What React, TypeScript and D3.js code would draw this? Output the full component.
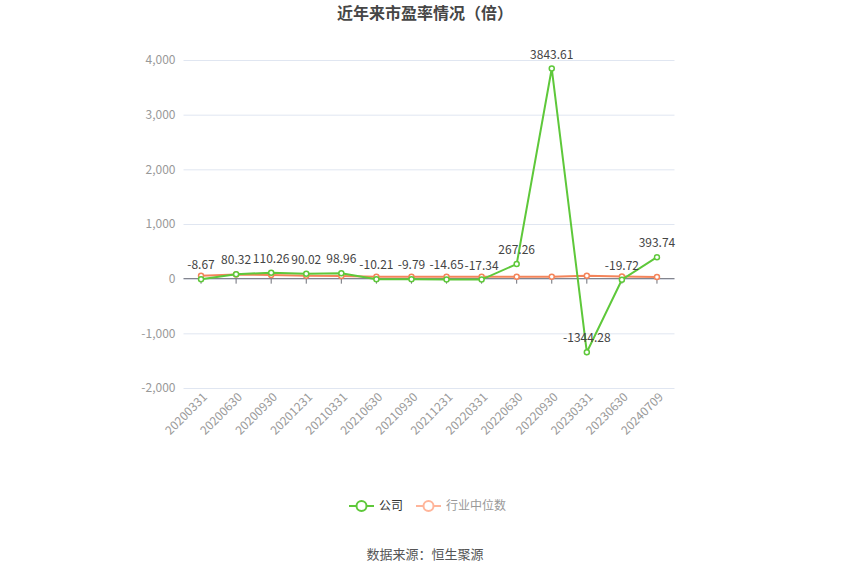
import { useEffect, useRef } from "react";
import { select, scaleLinear, scalePoint, line, axisLeft } from "d3";

const categories = [
  "20200331", "20200630", "20200930", "20201231", "20210331", "20210630", "20210930",
  "20211231", "20220331", "20220630", "20220930", "20230331", "20230630", "20240709",
];
const companyPE = [
  -8.67, 80.32, 110.26, 90.02, 98.96, -10.21, -9.79, -14.65, -17.34, 267.26, 3843.61,
  -1344.28, -19.72, 393.74,
];
const industryPE = [52, 75, 68, 55, 48, 36, 34, 34, 34, 33, 34, 55, 38, 30];
const yTicks = [-2000, -1000, 0, 1000, 2000, 3000, 4000];

const W = 850;
const H = 575;
const FONT = "'Noto Sans CJK SC', 'Noto Sans', sans-serif";
const GREEN = "#5ec83a";
const ORANGE = "#f4845a";

export default function App() {
  const ref = useRef<SVGSVGElement>(null);

  useEffect(() => {
    document.body.style.margin = "0";
    const svg = select(ref.current);
    svg.selectAll("*").remove();

    const left = 183.5, right = 674.5, top = 60, bottom = 388;
    const band = (right - left) / categories.length;
    const x = scalePoint<string>()
      .domain(categories)
      .range([left + band / 2, right - band / 2]);
    const y = scaleLinear().domain([-2000, 4000]).range([bottom, top]);

    // grid + y labels
    const yAxis = axisLeft(y)
      .tickValues(yTicks)
      .tickSize(-(right - left))
      .tickPadding(8)
      .tickFormat((d: any) => (d < 0 ? "-" : "") + Math.abs(d).toLocaleString("en-US"));
    const gy = svg.append("g").attr("transform", `translate(${left},0)`).call(yAxis as any);
    gy.select(".domain").remove();
    gy.selectAll(".tick line").attr("stroke", "#e0e6f1");
    gy.selectAll(".tick text")
      .attr("fill", "#999")
      .attr("font-size", 12)
      .attr("font-family", FONT);

    // zero axis line with ticks
    svg.append("line")
      .attr("x1", left).attr("x2", right)
      .attr("y1", y(0)).attr("y2", y(0))
      .attr("stroke", "#6e7079");
    svg.append("g")
      .selectAll("line")
      .data(categories)
      .join("line")
      .attr("x1", (d) => x(d)!).attr("x2", (d) => x(d)!)
      .attr("y1", y(0)).attr("y2", y(0) + 5)
      .attr("stroke", "#6e7079");

    // x labels
    svg.append("g")
      .selectAll("text")
      .data(categories)
      .join("text")
      .attr("transform", (d) => `translate(${x(d)! + 3},${bottom + 6}) rotate(-45)`)
      .attr("text-anchor", "end")
      .attr("dominant-baseline", "central")
      .attr("fill", "#999")
      .attr("font-size", 12)
      .attr("font-family", FONT)
      .text((d) => d);

    const drawSeries = (vals: number[], color: string) => {
      const pts = vals.map((v, i) => [x(categories[i])!, y(v)] as [number, number]);
      svg.append("path")
        .attr("d", line()(pts)!)
        .attr("fill", "none")
        .attr("stroke", color)
        .attr("stroke-width", 2);
      svg.append("g")
        .selectAll("circle")
        .data(pts)
        .join("circle")
        .attr("cx", (d) => d[0]).attr("cy", (d) => d[1])
        .attr("r", 2.5)
        .attr("fill", "#fff")
        .attr("stroke", color)
        .attr("stroke-width", 1.5);
    };
    drawSeries(industryPE, ORANGE);
    drawSeries(companyPE, GREEN);

    // company labels
    svg.append("g")
      .selectAll("text")
      .data(companyPE)
      .join("text")
      .attr("x", (_, i) => x(categories[i])!)
      .attr("y", (d) => y(d) - 10)
      .attr("text-anchor", "middle")
      .attr("fill", "#444")
      .attr("font-size", 12)
      .attr("font-family", FONT)
      .text((d) => String(d));

    // title
    svg.append("text")
      .attr("x", W / 2).attr("y", 19)
      .attr("text-anchor", "middle")
      .attr("font-size", 16)
      .attr("font-weight", "bold")
      .attr("fill", "#464646")
      .attr("font-family", FONT)
      .text("近年来市盈率情况（倍）");

    // legend
    const legend = [
      { name: "公司", color: GREEN, text: "#333", x: 349 },
      { name: "行业中位数", color: "#ffb59a", text: "#999", x: 416 },
    ];
    const lg = svg.append("g").selectAll("g").data(legend).join("g")
      .attr("transform", (d) => `translate(${d.x},506)`);
    lg.append("line")
      .attr("x1", 0).attr("x2", 25)
      .attr("stroke", (d) => d.color).attr("stroke-width", 2);
    lg.append("circle")
      .attr("cx", 12.5).attr("r", 5)
      .attr("fill", "#fff")
      .attr("stroke", (d) => d.color).attr("stroke-width", 2);
    lg.append("text")
      .attr("x", 30).attr("dy", "0.35em")
      .attr("fill", (d) => d.text)
      .attr("font-size", 12)
      .attr("font-family", FONT)
      .text((d) => d.name);

    // source
    svg.append("text")
      .attr("x", W / 2).attr("y", 559)
      .attr("text-anchor", "middle")
      .attr("fill", "#555")
      .attr("font-size", 13)
      .attr("font-family", FONT)
      .text("数据来源：恒生聚源");
  }, []);

  return <svg ref={ref} width={W} height={H} style={{ display: "block", background: "#fff" }} />;
}
